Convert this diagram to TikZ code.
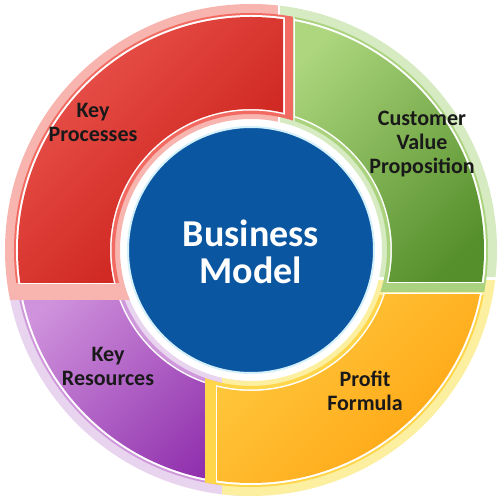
\documentclass[tikz,border=0pt]{standalone}
\usepackage{fontspec}
\setmainfont{Carlito}
\usetikzlibrary{positioning}

\definecolor{redpale}{HTML}{F8B4AE}
\definecolor{redmid}{HTML}{F26B62}
\definecolor{redlight}{HTML}{EE5C54}
\definecolor{reddark}{HTML}{C81A15}
\definecolor{greenpale}{HTML}{D6EBC2}
\definecolor{greenmid}{HTML}{ABD37F}
\definecolor{greenlight}{HTML}{ADD67E}
\definecolor{greendark}{HTML}{558F2B}
\definecolor{orangepale}{HTML}{FDEFA0}
\definecolor{orangemid}{HTML}{FFD54A}
\definecolor{orangelight}{HTML}{FFC83E}
\definecolor{orangedark}{HTML}{FF9E0A}
\definecolor{purplepale}{HTML}{E9D4EF}
\definecolor{purplemid}{HTML}{CF98DB}
\definecolor{purplelight}{HTML}{CF92DC}
\definecolor{purpledark}{HTML}{9030AD}
\definecolor{hubblue}{HTML}{0B56A1}
\definecolor{hubrim}{HTML}{D4F0FA}

\tikzstyle{seglabel} = [text=black!90, font=\bfseries\fontsize{22}{24}\selectfont, align=center]
\tikzstyle{hublabel} = [text=white, font=\bfseries\fontsize{38}{37}\selectfont, align=center]

% one layer of a ring segment: inner radius, outer radius, cut rectangle, fill
\newcommand{\ringpart}[4]{%
  \begin{scope}[even odd rule]
    \clip (0,0) circle[radius=#2] (0,0) circle[radius=#1];
    \path[#4] #3;
  \end{scope}}

\begin{document}
\begin{tikzpicture}[x=1pt, y=1pt]

\useasboundingbox (-251,-250) rectangle (249,250);

% segments =============================

% key resources
\ringpart{131}{246}{(-260,-260) rectangle (-5,-48)}{fill=purplepale}
\ringpart{136}{237}{(-260,-260) rectangle (-20,-35)}{fill=purplemid}
\ringpart{139.5}{235}{(-260,-260) rectangle (-18.5,-41.5)}{fill=white}
\ringpart{141}{233}{(-260,-260) rectangle (-20,-43)}{top color=purplelight, bottom color=purpledark, shading angle=45}

% profit formula
\ringpart{131}{246}{(-29,-260) rectangle (260,-30)}{fill=orangepale}
\ringpart{136}{237}{(-46,-260) rectangle (260,-45)}{fill=orangemid}
\ringpart{139.5}{235}{(-35.5,-260) rectangle (260,-43.5)}{fill=white}
\ringpart{141}{233}{(-34,-260) rectangle (260,-45)}{top color=orangelight, bottom color=orangedark, shading angle=45}

% customer value proposition
\ringpart{131}{246}{(29,-27) rectangle (260,260)}{fill=greenpale}
\ringpart{136}{237}{(44,-42) rectangle (260,260)}{fill=greenmid}
\ringpart{139.5}{235}{(42.5,-33.5) rectangle (260,260)}{fill=white}
\ringpart{141}{233}{(44,-32) rectangle (260,260)}{top color=greenlight, bottom color=greendark, shading angle=45}

% key processes
\ringpart{131}{246}{(-260,-50) rectangle (27,260)}{fill=redpale}
\ringpart{136}{237}{(-260,-33) rectangle (42,260)}{fill=redmid}
\ringpart{139.5}{235}{(-260,-34.5) rectangle (33.5,260)}{fill=white}
\ringpart{141}{233}{(-260,-33) rectangle (32,260)}{top color=redlight, bottom color=reddark, shading angle=45}

% hub
\fill[hubblue, draw=hubrim, line width=2pt] (0,0) circle[radius=123];

% labels
\node[hublabel] (model) at (0,-2) {Business\\Model};
\node[seglabel] (processes) at (-158,128) {Key\\Processes};
\node[seglabel] (value) at (171,106) {Customer\\Value\\Proposition};
\node[seglabel] (profit) at (114,-141) {Profit\\Formula};
\node[seglabel] (resources) at (-143,-116) {Key\\Resources};

\end{tikzpicture}
\end{document}
